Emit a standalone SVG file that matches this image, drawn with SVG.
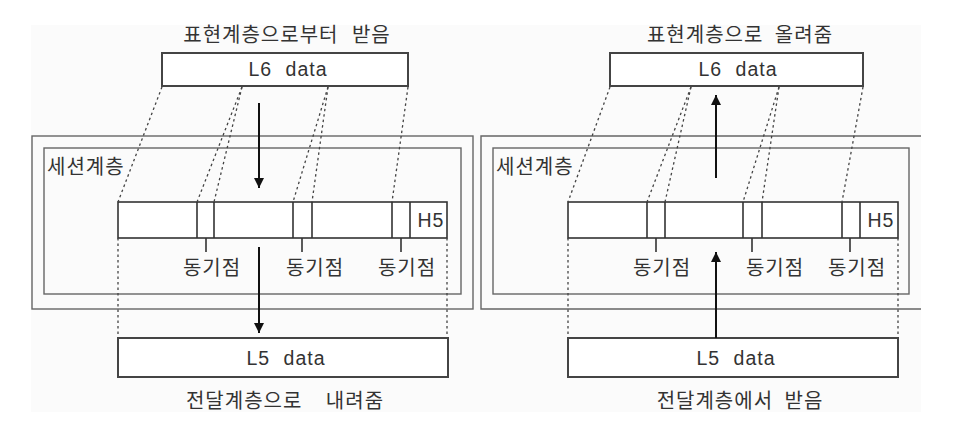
<svg xmlns="http://www.w3.org/2000/svg" width="976" height="438" viewBox="0 0 976 438">
<defs>
<style>
.t{font-family:"Noto Sans CJK KR","Noto Sans",sans-serif;font-size:20px;letter-spacing:1px;fill:#333;}
.e{font-family:"Liberation Sans",Arial,sans-serif;font-size:19.5px;letter-spacing:1px;fill:#333;}
.frame{fill:none;stroke:#666;stroke-width:1.4;}
.box{fill:#fff;stroke:#444;stroke-width:2;}
.bar{fill:#fff;stroke:#333;stroke-width:1.6;}
.div{stroke:#333;stroke-width:1.6;}
.dash{stroke:#444;stroke-width:1.3;stroke-dasharray:2.5 3;fill:none;}
.arr{stroke:#111;stroke-width:2;fill:none;}
</style>
<marker id="ah2" viewBox="0 0 10 10" refX="10" refY="5" markerWidth="14" markerHeight="10" markerUnits="userSpaceOnUse" orient="auto">
<path d="M0,0 L10,5 L0,10 z" fill="#111"/>
</marker>
</defs>
<rect x="0" y="0" width="976" height="438" fill="#fff"/>
<rect x="31" y="25" width="890" height="387" fill="#fbfbfb"/>

<!-- Left panel -->
<g id="left-session-outer"><rect class="frame" x="32" y="136" width="441" height="173"/></g>
<g id="left-session-inner"><rect class="frame" x="44" y="148" width="417" height="146"/><text class="t" x="47" y="174">세션계층</text></g>
<g id="left-title"><text class="t" x="287" y="42" text-anchor="middle" word-spacing="8">표현계층으로부터 받음</text></g>
<g id="left-L6"><rect class="box" x="162" y="53" width="246" height="33"/><text class="e" x="288" y="76" text-anchor="middle" word-spacing="7">L6 data</text></g>
<g id="left-bar">
<rect class="bar" x="118" y="202" width="329" height="36"/>
<line class="div" x1="197" y1="202" x2="197" y2="238"/><line class="div" x1="214" y1="202" x2="214" y2="238"/>
<line class="div" x1="293" y1="202" x2="293" y2="238"/><line class="div" x1="312" y1="202" x2="312" y2="238"/>
<line class="div" x1="392" y1="202" x2="392" y2="238"/><line class="div" x1="410" y1="202" x2="410" y2="238"/>
<text class="e" x="431" y="227" text-anchor="middle" font-size="18" letter-spacing="1">H5</text>
<line class="div" x1="206" y1="238" x2="206" y2="252"/><line class="div" x1="302" y1="238" x2="302" y2="252"/><line class="div" x1="401" y1="238" x2="401" y2="252"/>
<text class="t" x="212" y="275" text-anchor="middle">동기점</text>
<text class="t" x="315" y="275" text-anchor="middle">동기점</text>
<text class="t" x="407" y="275" text-anchor="middle">동기점</text>
</g>
<g id="left-L5"><rect class="box" x="118" y="338" width="330" height="39"/><text class="e" x="286" y="365" text-anchor="middle" word-spacing="7">L5 data</text></g>
<g id="left-bottom"><text class="t" x="285" y="408" text-anchor="middle" word-spacing="18">전달계층으로 내려줌</text></g>

<!-- Right panel -->
<g id="right-session-outer"><path class="frame" d="M921,136 H481 V309 H921"/></g>
<g id="right-session-inner"><rect class="frame" x="493" y="148" width="416" height="146"/><text class="t" x="496" y="174">세션계층</text></g>
<g id="right-title"><text class="t" x="740" y="42" text-anchor="middle" word-spacing="6">표현계층으로 올려줌</text></g>
<g id="right-L6"><rect class="box" x="610" y="53" width="253" height="33"/><text class="e" x="738" y="76" text-anchor="middle" word-spacing="7">L6 data</text></g>
<g id="right-bar">
<rect class="bar" x="568" y="202" width="330" height="36"/>
<line class="div" x1="647" y1="202" x2="647" y2="238"/><line class="div" x1="665" y1="202" x2="665" y2="238"/>
<line class="div" x1="743" y1="202" x2="743" y2="238"/><line class="div" x1="762" y1="202" x2="762" y2="238"/>
<line class="div" x1="842" y1="202" x2="842" y2="238"/><line class="div" x1="860" y1="202" x2="860" y2="238"/>
<text class="e" x="881" y="227" text-anchor="middle" font-size="18" letter-spacing="1">H5</text>
<line class="div" x1="656" y1="238" x2="656" y2="252"/><line class="div" x1="752" y1="238" x2="752" y2="252"/><line class="div" x1="850" y1="238" x2="850" y2="252"/>
<text class="t" x="662" y="275" text-anchor="middle">동기점</text>
<text class="t" x="775" y="275" text-anchor="middle">동기점</text>
<text class="t" x="857" y="275" text-anchor="middle">동기점</text>
</g>
<g id="right-L5"><rect class="box" x="568" y="338" width="330" height="39"/><text class="e" x="736" y="365" text-anchor="middle" word-spacing="7">L5 data</text></g>
<g id="right-bottom"><text class="t" x="740" y="408" text-anchor="middle" word-spacing="6">전달계층에서 받음</text></g>

<!-- Connectors -->
<g id="connectors">
<line class="dash" x1="162" y1="87" x2="118" y2="202"/>
<line class="dash" x1="242" y1="87" x2="197" y2="202"/>
<line class="dash" x1="242" y1="87" x2="214" y2="202"/>
<line class="dash" x1="328" y1="87" x2="293" y2="202"/>
<line class="dash" x1="328" y1="87" x2="312" y2="202"/>
<line class="dash" x1="408" y1="87" x2="392" y2="202"/>
<line class="dash" x1="118" y1="238" x2="118" y2="338"/>
<line class="dash" x1="447" y1="238" x2="447" y2="338"/>
<line class="arr" x1="259" y1="103" x2="259" y2="188" marker-end="url(#ah2)"/>
<line class="arr" x1="259" y1="247" x2="259" y2="333" marker-end="url(#ah2)"/>

<line class="dash" x1="610" y1="87" x2="568" y2="202"/>
<line class="dash" x1="691" y1="87" x2="647" y2="202"/>
<line class="dash" x1="691" y1="87" x2="665" y2="202"/>
<line class="dash" x1="779" y1="87" x2="743" y2="202"/>
<line class="dash" x1="779" y1="87" x2="762" y2="202"/>
<line class="dash" x1="863" y1="87" x2="842" y2="202"/>
<line class="dash" x1="568" y1="238" x2="568" y2="338"/>
<line class="dash" x1="898" y1="238" x2="898" y2="338"/>
<line class="arr" x1="716" y1="178" x2="716" y2="95" marker-end="url(#ah2)"/>
<line class="arr" x1="716" y1="338" x2="716" y2="252" marker-end="url(#ah2)"/>
</g>
</svg>
